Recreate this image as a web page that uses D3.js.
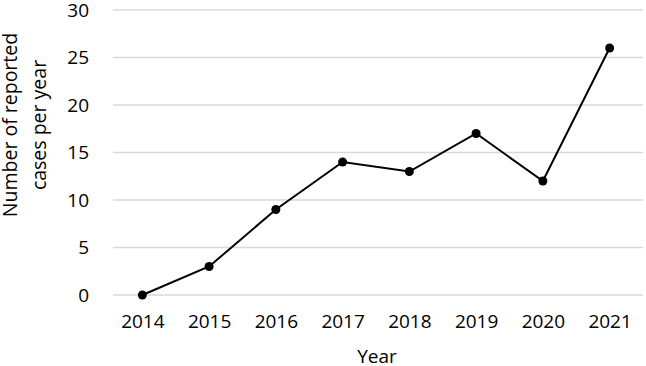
<!DOCTYPE html>
<html>
<head>
<meta charset="utf-8">
<script src="https://cdn.jsdelivr.net/npm/d3@7"></script>
<style>
  body { margin: 0; background: #fff; }
  text { font-family: "Open Sans", sans-serif; fill: #000; }
</style>
</head>
<body>
<div id="chart"></div>
<script>
var years = ["2014", "2015", "2016", "2017", "2018", "2019", "2020", "2021"];
var cases = [0, 3, 9, 14, 13, 17, 12, 26];
var yTicks = [0, 5, 10, 15, 20, 25, 30];

var margin = {top: 10, right: 3, bottom: 71, left: 109},
    width = 646 - margin.left - margin.right,
    height = 366 - margin.top - margin.bottom;

var svg = d3.select("#chart")
  .append("svg")
    .attr("width", 646)
    .attr("height", 366)
  .append("g")
    .attr("transform", "translate(" + margin.left + "," + margin.top + ")");

var data = years.map(function(y, i) { return {year: y, value: cases[i]}; });

var x = d3.scalePoint()
  .domain(years)
  .range([0, width])
  .padding(0.5);

var y = d3.scaleLinear()
  .domain([0, 30])
  .range([height, 0]);

// gridlines
svg.append("g")
  .selectAll("line")
  .data(yTicks)
  .join("line")
    .attr("x1", 4)
    .attr("x2", width)
    .attr("y1", function(d) { return y(d); })
    .attr("y2", function(d) { return y(d); })
    .attr("stroke", "#d9d9d9")
    .attr("stroke-width", 1.5);

// y axis labels
var yAxis = svg.append("g")
  .call(d3.axisLeft(y).tickValues(yTicks).tickSize(0).tickPadding(20));
yAxis.select(".domain").remove();
yAxis.selectAll("text").style("font-size", "19px").attr("font-family", null);

// x axis labels
var xAxis = svg.append("g")
  .attr("transform", "translate(0," + height + ")")
  .call(d3.axisBottom(x).tickSize(0).tickPadding(20));
xAxis.select(".domain").remove();
xAxis.selectAll("text").style("font-size", "19px").attr("font-family", null);

// line
svg.append("path")
  .datum(data)
  .attr("fill", "none")
  .attr("stroke", "#000")
  .attr("stroke-width", 2)
  .attr("d", d3.line()
    .x(function(d) { return x(d.year); })
    .y(function(d) { return y(d.value); }));

svg.selectAll("circle")
  .data(data)
  .join("circle")
    .attr("cx", function(d) { return x(d.year); })
    .attr("cy", function(d) { return y(d.value); })
    .attr("r", 4.5)
    .attr("fill", "#000");

// axis titles
svg.append("text")
  .attr("x", 268)
  .attr("y", height + 68)
  .attr("text-anchor", "middle")
  .style("font-size", "19px")
  .text("Year");

var yTitle = svg.append("text")
  .attr("transform", "translate(" + (-margin.left + 17) + ",115) rotate(-90)")
  .attr("text-anchor", "middle")
  .style("font-size", "19.5px");
yTitle.append("tspan").attr("x", 0).attr("dy", 0).text("Number of reported");
yTitle.append("tspan").attr("x", 0).attr("dy", 29).text("cases per year");
</script>
</body>
</html>
